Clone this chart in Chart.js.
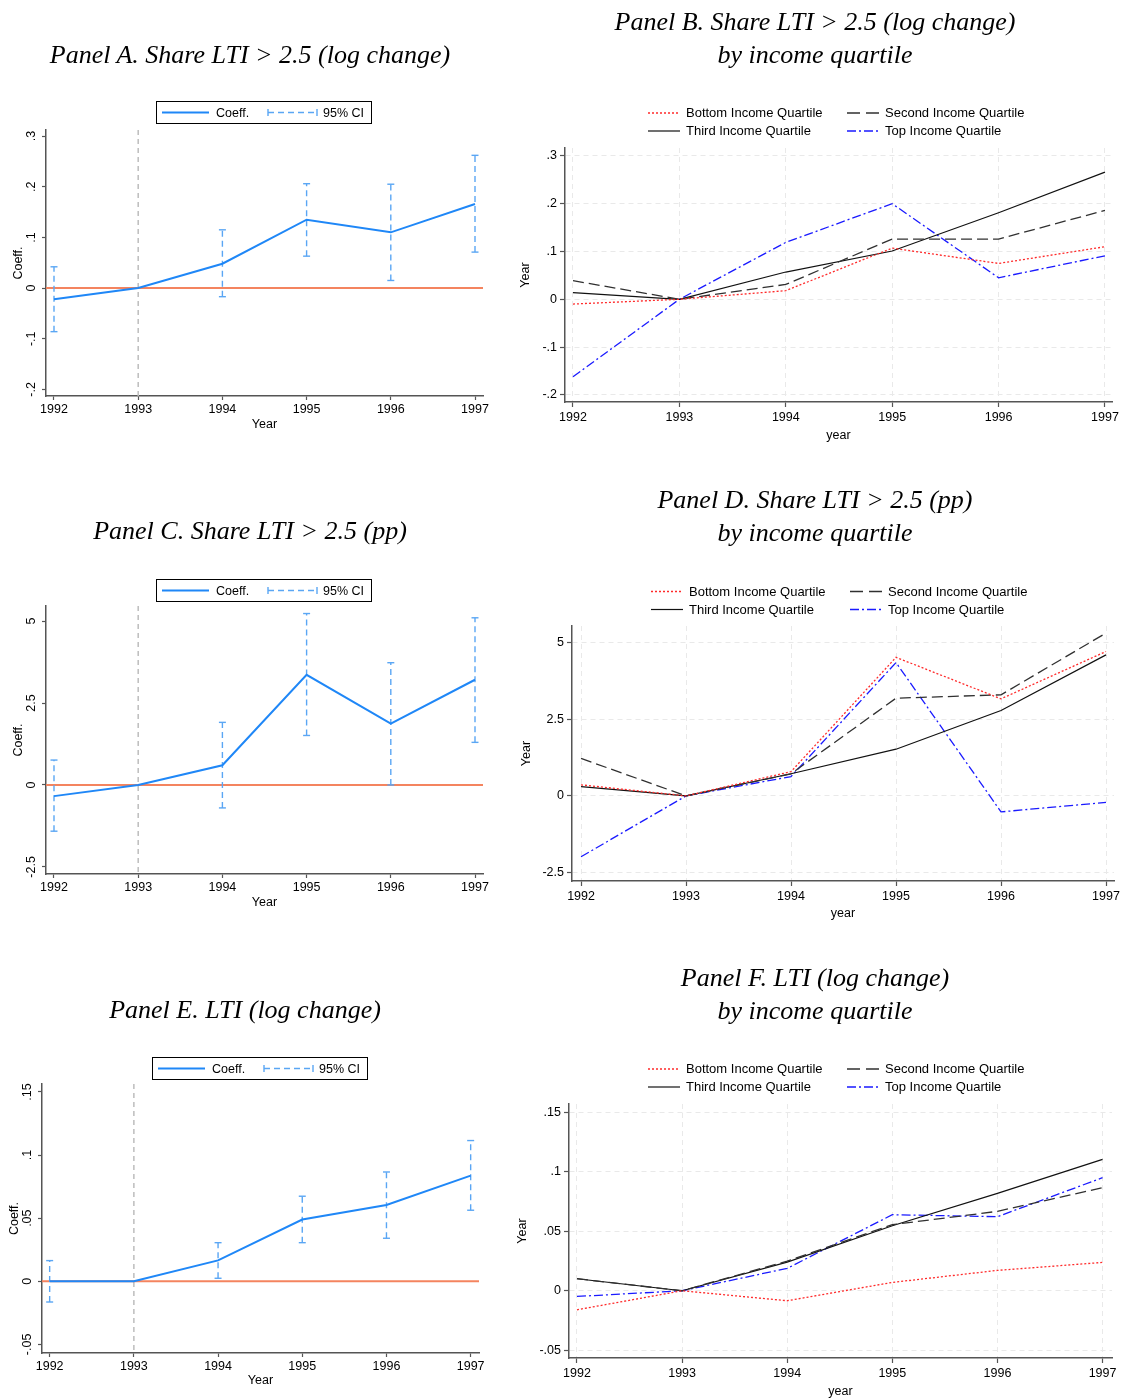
<!DOCTYPE html>
<html>
<head>
<meta charset="utf-8">
<script src="https://cdn.jsdelivr.net/npm/chart.js@4.4.0/dist/chart.umd.min.js"></script>
<style>
  html, body { margin: 0; padding: 0; background: #fff; }
  body { width: 1122px; height: 1399px; position: relative; overflow: hidden; font-family: "Liberation Sans", Arial, sans-serif; }
  canvas { position: absolute; }
  .ttl { position: absolute; font-family: "Liberation Serif", serif; font-style: italic; font-size: 26px; line-height: 32px; white-space: nowrap; transform: translateX(-50%); color: #000; }
  .lg { position: absolute; font-size: 12.5px; line-height: 16px; white-space: nowrap; color: #000; }
  .lg.q { font-size: 13px; }
  #over { position: absolute; left: 0; top: 0; pointer-events: none; }
</style>
</head>
<body>
<svg id="over" width="1122" height="1399"></svg>
<script>
var years = [1992, 1993, 1994, 1995, 1996, 1997];

// Panel A. Share LTI > 2.5 (log change)
var coefA = [-0.022, 0, 0.048, 0.135, 0.110, 0.166];
var ciLoA = [-0.086, null, -0.017, 0.063, 0.015, 0.071];
var ciHiA = [0.042, null, 0.115, 0.206, 0.205, 0.262];
var ticksA = [-0.2, -0.1, 0, 0.1, 0.2, 0.3];

// Panel C. Share LTI > 2.5 (pp)
var coefC = [-0.34, 0, 0.60, 3.36, 1.87, 3.21];
var ciLoC = [-1.41, null, -0.70, 1.51, 0.0, 1.30];
var ciHiC = [0.76, null, 1.91, 5.23, 3.73, 5.10];
var ticksC = [-2.5, 0, 2.5, 5];

// Panel E. LTI (log change)
var coefE = [0.000, 0, 0.0166, 0.0489, 0.0605, 0.0837];
var ciLoE = [-0.0164, null, 0.0024, 0.0306, 0.0341, 0.0563];
var ciHiE = [0.0164, null, 0.0306, 0.0674, 0.0866, 0.1115];
var ticksE = [-0.05, 0, 0.05, 0.1, 0.15];

var quartiles = ["Bottom Income Quartile", "Second Income Quartile", "Third Income Quartile", "Top Income Quartile"];

// Panel B
var bottomB = [-0.010, 0, 0.018, 0.107, 0.075, 0.110];
var secondB = [0.039, 0, 0.031, 0.126, 0.126, 0.186];
var thirdB  = [0.014, 0, 0.057, 0.101, 0.181, 0.266];
var topB    = [-0.162, 0, 0.119, 0.200, 0.045, 0.091];
var ticksB = [-0.2, -0.1, 0, 0.1, 0.2, 0.3];

// Panel D
var bottomD = [0.36, 0, 0.79, 4.51, 3.16, 4.70];
var secondD = [1.22, 0, 0.72, 3.18, 3.29, 5.30];
var thirdD  = [0.30, 0, 0.72, 1.52, 2.78, 4.59];
var topD    = [-1.98, 0, 0.63, 4.34, -0.52, -0.21];
var ticksD = [-2.5, 0, 2.5, 5];

// Panel F
var bottomF = [-0.016, 0, -0.0084, 0.007, 0.0171, 0.0238];
var secondF = [0.0101, 0, 0.0249, 0.0555, 0.0667, 0.0866];
var thirdF  = [0.0101, 0, 0.024, 0.0546, 0.0818, 0.1104];
var topF    = [-0.0048, 0, 0.0188, 0.0639, 0.0622, 0.095];
var ticksF = [-0.05, 0, 0.05, 0.1, 0.15];

var coefColor = '#1f87f7';
var ciColor = '#5aa6f4';
var qStyle = [
  {color: '#ff2a2a', dash: [2, 2], width: 1.3},
  {color: '#303030', dash: [11, 5], width: 1.3},
  {color: '#111111', dash: [], width: 1.2},
  {color: '#1a1aff', dash: [9, 3, 2, 3], width: 1.3}
];

Chart.defaults.font.family = '"Liberation Sans", Arial, sans-serif';
Chart.defaults.font.size = 12.5;
Chart.defaults.color = '#000';

function stataFmt(v) {
  var s = String(parseFloat(Number(v).toFixed(4)));
  return s.replace(/^(-?)0\./, '$1.');
}

function series(vals) {
  return years.map(function (yr, i) { return {x: yr, y: vals[i]}; });
}

function ciPoints(lo, hi) {
  var pts = [];
  years.forEach(function (yr, i) {
    if (lo[i] === null) return;
    pts.push({x: yr, y: lo[i]}, {x: yr, y: hi[i]}, {x: yr, y: null});
  });
  return pts;
}

// zero line and 1993 marker, drawn through the scales
var refLines = {
  id: 'refLines',
  beforeDatasetsDraw: function (chart) {
    var ctx = chart.ctx, a = chart.chartArea;
    var px = chart.scales.x.getPixelForValue(1993);
    var py = chart.scales.y.getPixelForValue(0);
    ctx.save();
    ctx.strokeStyle = '#bdbdbd'; ctx.lineWidth = 1.5; ctx.setLineDash([5, 4]);
    ctx.beginPath(); ctx.moveTo(px, a.top); ctx.lineTo(px, a.bottom); ctx.stroke();
    ctx.setLineDash([]); ctx.strokeStyle = '#f4845f'; ctx.lineWidth = 2;
    ctx.beginPath(); ctx.moveTo(a.left, py); ctx.lineTo(a.right, py); ctx.stroke();
    ctx.restore();
  }
};

function coefSets(coef, lo, hi) {
  return [
    {data: series(coef), borderColor: coefColor, borderWidth: 2, pointRadius: 0},
    {data: ciPoints(lo, hi), borderColor: ciColor, borderWidth: 1.4, borderDash: [6, 4],
     spanGaps: false, pointStyle: 'line', pointRadius: 3.5, pointBorderColor: ciColor, pointBorderWidth: 1.4}
  ];
}

function quartSets(vals) {
  return vals.map(function (v, i) {
    return {data: series(v), borderColor: qStyle[i].color, borderWidth: qStyle[i].width,
            borderDash: qStyle[i].dash, pointRadius: 0};
  });
}

function build(p) {
  var cv = document.createElement('canvas');
  cv.width = p.W; cv.height = p.H;
  cv.style.left = p.L + 'px'; cv.style.top = p.T + 'px';
  document.body.insertBefore(cv, document.getElementById('over'));
  var q = p.quart;
  var gridOpts = {display: true, drawOnChartArea: q, color: '#e9e9e9', lineWidth: 1,
                  drawTicks: true, tickLength: q ? 5 : 4, tickColor: '#555', tickWidth: 1.2};
  var borderOpts = {display: true, color: '#555', width: 1.5, dash: q ? [5, 4] : []};
  new Chart(cv, {
    type: 'line',
    data: {datasets: p.datasets},
    plugins: q ? [] : [refLines],
    options: {
      responsive: false, devicePixelRatio: 1, animation: false,
      layout: {autoPadding: false,
               padding: {left: 0, top: p.plot[1] - p.T, right: p.L + p.W - p.plot[2], bottom: 0}},
      plugins: {legend: {display: false}, tooltip: {enabled: false}},
      scales: {
        x: {
          type: 'linear', position: 'bottom', min: p.xMin, max: p.xMax,
          afterBuildTicks: function (ax) { ax.ticks = years.map(function (v) { return {value: v}; }); },
          afterFit: function (ax) {
            ax.height = p.T + p.H - p.plot[3];
            ax.paddingLeft = 0; ax.paddingRight = 0;
          },
          ticks: {callback: function (v) { return String(v); }, maxRotation: 0, minRotation: 0,
                  autoSkip: false, padding: q ? 3 : 2},
          grid: gridOpts, border: borderOpts,
          title: {display: true, text: p.xTitle, padding: {top: 0, bottom: p.xTitleOff - 7.5}}
        },
        y: {
          type: 'linear', position: 'left', min: p.yMin, max: p.yMax,
          afterBuildTicks: function (ax) { ax.ticks = p.yTicks.map(function (v) { return {value: v}; }); },
          afterFit: function (ax) {
            ax.width = p.plot[0] - p.L;
            ax.paddingTop = 0; ax.paddingBottom = 0;
          },
          ticks: q ? {callback: stataFmt, padding: 3}
                   : {callback: stataFmt, minRotation: 90, maxRotation: 90, crossAlign: 'center', padding: p.yPad},
          grid: gridOpts, border: borderOpts,
          title: {display: true, text: p.yTitle, padding: {top: p.yTitleOff - 7.5, bottom: 0}}
        }
      }
    }
  });
}

build({L: 0, T: 125, W: 500, H: 311, plot: [46, 130, 483, 396], xMin: 1991.905, xMax: 1997.095,
       yMin: -0.213, yMax: 0.312, yTicks: ticksA, yPad: 3, quart: false,
       xTitle: 'Year', xTitleOff: 11, yTitle: 'Coeff.', yTitleOff: 19,
       datasets: coefSets(coefA, ciLoA, ciHiA)});
build({L: 0, T: 600, W: 500, H: 314, plot: [46, 606, 483, 874], xMin: 1991.905, xMax: 1997.095,
       yMin: -2.716, yMax: 5.46, yTicks: ticksC, yPad: 0, quart: false,
       xTitle: 'Year', xTitleOff: 11, yTitle: 'Coeff.', yTitleOff: 19,
       datasets: coefSets(coefC, ciLoC, ciHiC)});
build({L: 0, T: 1078, W: 500, H: 314, plot: [42, 1084, 479, 1353], xMin: 1991.909, xMax: 1997.099,
       yMin: -0.0568, yMax: 0.1563, yTicks: ticksE, yPad: 0, quart: false,
       xTitle: 'Year', xTitleOff: 11, yTitle: 'Coeff.', yTitleOff: 15,
       datasets: coefSets(coefE, ciLoE, ciHiE)});

build({L: 510, T: 140, W: 612, H: 303, plot: [565, 148, 1112, 402], xMin: 1991.925, xMax: 1997.066,
       yMin: -0.2149, yMax: 0.3165, yTicks: ticksB, quart: true,
       xTitle: 'year', xTitleOff: 7, yTitle: 'Year', yTitleOff: 16,
       datasets: quartSets([bottomB, secondB, thirdB, topB])});
build({L: 510, T: 618, W: 612, H: 303, plot: [572, 626, 1114, 881], xMin: 1991.914, xMax: 1997.076,
       yMin: -2.77, yMax: 5.53, yTicks: ticksD, quart: true,
       xTitle: 'year', xTitleOff: 7, yTitle: 'Year', yTitleOff: 17,
       datasets: quartSets([bottomD, secondD, thirdD, topD])});
build({L: 510, T: 1096, W: 612, H: 303, plot: [569, 1104, 1112, 1358], xMin: 1991.924, xMax: 1997.09,
       yMin: -0.0565, yMax: 0.1569, yTicks: ticksF, quart: true,
       xTitle: 'year', xTitleOff: 7, yTitle: 'Year', yTitleOff: 12.5,
       datasets: quartSets([bottomF, secondF, thirdF, topF])});

// titles
function title(text, cx, cy) {
  var d = document.createElement('div');
  d.className = 'ttl'; d.textContent = text;
  d.style.left = cx + 'px'; d.style.top = (cy - 16) + 'px';
  document.body.appendChild(d);
}
title('Panel A. Share LTI > 2.5 (log change)', 250, 55);
title('Panel B. Share LTI > 2.5 (log change)', 815, 22);
title('by income quartile', 815, 55);
title('Panel C. Share LTI > 2.5 (pp)', 250, 531);
title('Panel D. Share LTI > 2.5 (pp)', 815, 500);
title('by income quartile', 815, 533);
title('Panel E. LTI (log change)', 245, 1010);
title('Panel F. LTI (log change)', 815, 978);
title('by income quartile', 815, 1011);

// legends
var svg = document.getElementById('over');
function svgEl(tag, attrs) {
  var e = document.createElementNS('http://www.w3.org/2000/svg', tag);
  for (var k in attrs) e.setAttribute(k, attrs[k]);
  svg.appendChild(e);
  return e;
}
function label(text, x, y, cls) {
  var d = document.createElement('div');
  d.className = cls; d.textContent = text;
  d.style.left = x + 'px'; d.style.top = (y - 8) + 'px';
  document.body.appendChild(d);
}
function coefLegend(bx, by) {
  var y = by + 11.5;
  svgEl('rect', {x: bx + 0.5, y: by + 0.5, width: 215, height: 22, fill: 'none', stroke: '#000', 'stroke-width': 1});
  svgEl('line', {x1: bx + 6, y1: y, x2: bx + 53, y2: y, stroke: coefColor, 'stroke-width': 2});
  svgEl('line', {x1: bx + 112, y1: y, x2: bx + 161, y2: y, stroke: ciColor, 'stroke-width': 1.4, 'stroke-dasharray': '6 4'});
  svgEl('line', {x1: bx + 112, y1: y - 3.5, x2: bx + 112, y2: y + 3.5, stroke: ciColor, 'stroke-width': 1.4});
  svgEl('line', {x1: bx + 161, y1: y - 3.5, x2: bx + 161, y2: y + 3.5, stroke: ciColor, 'stroke-width': 1.4});
  label('Coeff.', bx + 60, y, 'lg');
  label('95% CI', bx + 167, y, 'lg');
}
coefLegend(156, 101);
coefLegend(156, 579);
coefLegend(152, 1057);

function quartLegend(sx, y1, y2) {
  var pos = [[sx, y1], [sx + 199, y1], [sx, y2], [sx + 199, y2]];
  quartiles.forEach(function (name, i) {
    var x = pos[i][0], y = pos[i][1], s = qStyle[i];
    var a = {x1: x, y1: y, x2: x + 32, y2: y, stroke: s.color, 'stroke-width': s.width};
    if (s.dash.length) a['stroke-dasharray'] = i === 1 ? '13 6' : s.dash.join(' ');
    svgEl('line', a);
    label(name, x + 38, y, 'lg q');
  });
}
quartLegend(648, 113, 131);
quartLegend(651, 591.5, 609.5);
quartLegend(648, 1069, 1087);
</script>
</body>
</html>
